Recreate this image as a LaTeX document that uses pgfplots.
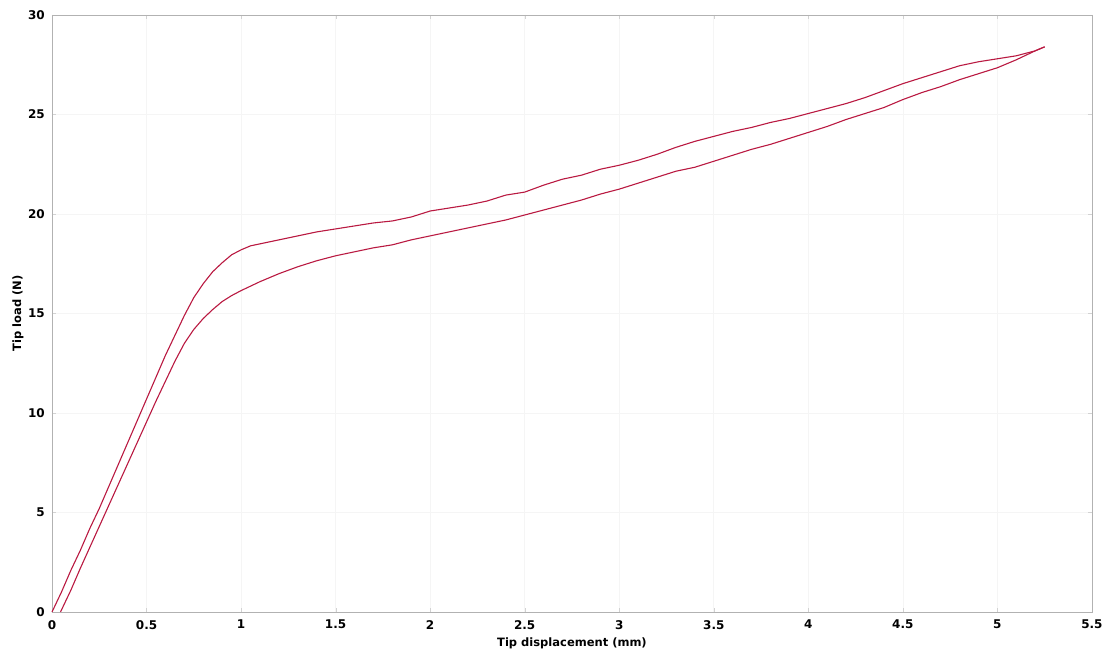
\documentclass[border=0pt]{standalone}
\usepackage{pgfplots}
\pgfplotsset{compat=1.18}
\usepackage{fontspec}
\setmainfont{DejaVu Sans}
\definecolor{curve}{RGB}{185,25,65}
\begin{document}
\begin{tikzpicture}
\path[use as bounding box] (-52bp,-42bp) rectangle (1055bp,612bp);
\begin{axis}[
  scale only axis, width=1040bp, height=597bp,
  at={(0,0)}, anchor=south west,
  xmin=0, xmax=5.5, ymin=0, ymax=30,
  xtick={0,0.5,1,1.5,2,2.5,3,3.5,4,4.5,5,5.5},
  xticklabels={0,0.5,1,1.5,2,2.5,3,3.5,4,4.5,5,5.5},
  ytick={0,5,10,15,20,25,30},
  yticklabels={0,5,10,15,20,25,30},
  axis line style={gray!60, line width=0.8bp},
  tick style={gray!35},
  major tick length=4bp,
  tick align=inside,
  grid=major,
  major grid style={gray!8, line width=0.6bp},
  font=\fontsize{11.5bp}{13bp}\selectfont\bfseries,
  ticklabel style={font=\fontsize{12bp}{14bp}\selectfont\bfseries},
  xticklabel style={anchor=north, inner sep=0pt, yshift=-8bp},
  yticklabel style={anchor=east, inner sep=0pt, xshift=-7bp},
  every axis x label/.style={at={(axis description cs:0.5,0)}, yshift=-31bp, anchor=center},
  every axis y label/.style={at={(axis description cs:0,0.5)}, xshift=-34bp, rotate=90, anchor=center},
  xlabel={Tip displacement (mm)},
  ylabel={Tip load (N)},
  clip=false,
]
\addplot[curve, line width=1.1bp] coordinates {
(0,0) (0.05,1.0) (0.1,2.1) (0.15,3.1) (0.2,4.2) (0.25,5.2) (0.3,6.3) (0.35,7.4)
(0.4,8.5) (0.45,9.6) (0.5,10.7) (0.55,11.8) (0.6,12.9) (0.65,13.9) (0.7,14.9)
(0.75,15.8) (0.8,16.5) (0.85,17.1) (0.9,17.55) (0.95,17.95) (1.0,18.2) (1.05,18.4)
(1.1,18.5) (1.2,18.7) (1.3,18.9) (1.4,19.1) (1.5,19.25) (1.6,19.4) (1.7,19.55)
(1.8,19.65) (1.9,19.85) (2.0,20.15) (2.1,20.3) (2.2,20.45) (2.3,20.65) (2.4,20.95)
(2.5,21.1) (2.6,21.45) (2.7,21.75) (2.8,21.95) (2.9,22.25) (3.0,22.45) (3.1,22.7)
(3.2,23.0) (3.3,23.35) (3.4,23.65) (3.5,23.9) (3.6,24.15) (3.7,24.35) (3.8,24.6)
(3.9,24.8) (4.0,25.05) (4.1,25.3) (4.2,25.55) (4.3,25.85) (4.4,26.2) (4.5,26.55)
(4.6,26.85) (4.7,27.15) (4.8,27.45) (4.9,27.65) (5.0,27.8) (5.1,27.95) (5.2,28.2) (5.25,28.4)
};
\addplot[curve, line width=1.1bp] coordinates {
(0.045,0) (0.1,1.1) (0.15,2.2) (0.2,3.25) (0.25,4.3) (0.3,5.35) (0.35,6.4) (0.4,7.45)
(0.45,8.5) (0.5,9.55) (0.55,10.6) (0.6,11.6) (0.65,12.6) (0.7,13.5) (0.75,14.2)
(0.8,14.75) (0.85,15.2) (0.9,15.6) (0.95,15.9) (1.0,16.15) (1.1,16.6) (1.2,17.0)
(1.3,17.35) (1.4,17.65) (1.5,17.9) (1.6,18.1) (1.7,18.3) (1.8,18.45) (1.9,18.7)
(2.0,18.9) (2.1,19.1) (2.2,19.3) (2.3,19.5) (2.4,19.7) (2.5,19.95) (2.6,20.2)
(2.7,20.45) (2.8,20.7) (2.9,21.0) (3.0,21.25) (3.1,21.55) (3.2,21.85) (3.3,22.15)
(3.4,22.35) (3.5,22.65) (3.6,22.95) (3.7,23.25) (3.8,23.5) (3.9,23.8) (4.0,24.1)
(4.1,24.4) (4.2,24.75) (4.3,25.05) (4.4,25.35) (4.5,25.75) (4.6,26.1) (4.7,26.4)
(4.8,26.75) (4.9,27.05) (5.0,27.35) (5.1,27.75) (5.2,28.2) (5.25,28.4)
};
\end{axis}
\end{tikzpicture}
\end{document}
